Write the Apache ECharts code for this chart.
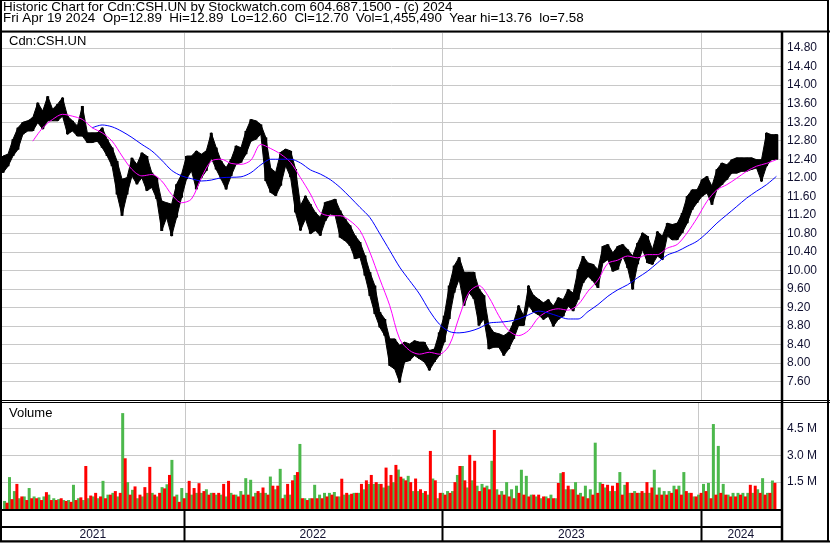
<!DOCTYPE html>
<html><head><meta charset="utf-8">
<script src="https://cdn.jsdelivr.net/npm/echarts/dist/echarts.min.js"></script>
<style>html,body{margin:0;padding:0;background:#fff}#c{width:830px;height:543px}</style>
</head><body><div id="c"></div><script>
const DAY = 86400000;
// weekly bars (Wednesday of each trading week), first week Apr 19-23 2021
const firstWeek = Date.UTC(2021, 3, 21);
const axisStart = Date.UTC(2021, 3, 19, 12);
const axisEnd = Date.UTC(2024, 3, 23, 12);

const priceHigh = [
12.47,12.51,12.83,13.08,13.20,13.23,13.30,13.62,13.44,13.76,
13.48,13.59,13.73,13.33,13.23,13.12,13.55,12.97,12.97,12.97,
13.08,12.83,12.65,12.36,11.97,12.00,12.43,12.29,12.54,12.47,
12.11,12.00,11.50,11.46,11.43,11.86,12.07,12.47,12.47,12.58,
12.51,12.58,12.97,12.65,12.36,12.22,12.40,12.69,12.65,13.01,
13.26,13.23,13.15,12.87,12.20,12.12,12.55,12.62,12.58,12.19,
11.40,11.61,11.43,11.25,11.14,11.47,11.50,11.54,11.29,11.11,
10.97,10.75,10.61,10.32,9.96,9.67,9.10,8.95,8.52,8.52,
8.38,8.45,8.41,8.48,8.45,8.45,8.27,8.30,8.66,9.02,
9.67,10.10,10.28,9.96,9.96,9.96,9.60,9.46,8.81,8.66,
8.63,8.59,8.66,8.88,9.24,9.02,9.67,9.46,9.38,9.30,
9.37,9.23,9.41,9.37,9.59,9.51,10.02,10.31,10.16,10.13,
10.02,10.52,10.56,10.38,10.52,10.56,10.45,10.31,10.59,10.81,
10.74,10.45,10.84,10.74,11.02,10.99,11.02,11.24,11.60,11.74,
11.74,11.96,12.03,11.82,12.18,12.32,12.28,12.39,12.43,12.43,
12.43,12.43,12.39,12.39,12.97,12.93,12.93];
const priceLow = [
12.11,12.25,12.47,12.61,12.94,13.01,13.01,13.19,13.05,13.23,
13.23,13.23,13.33,12.94,13.01,12.90,12.90,12.76,12.76,12.79,
12.65,12.47,12.25,11.64,11.18,11.64,12.04,11.86,12.00,11.72,
11.79,11.54,10.85,11.14,10.74,11.14,11.57,11.97,12.15,11.75,
12.00,12.15,12.43,12.18,11.97,11.75,12.04,12.29,12.33,12.51,
12.79,12.83,12.94,11.93,11.68,11.61,11.83,12.26,12.01,11.25,
10.86,11.11,10.79,10.86,10.75,11.07,11.22,11.18,10.71,10.64,
10.53,10.25,10.28,9.89,9.45,9.06,8.77,8.59,7.94,7.87,
7.58,8.02,8.05,8.16,8.09,8.02,7.84,8.02,8.16,8.45,
8.95,9.52,9.81,9.24,9.52,9.38,8.81,8.95,8.30,8.34,
8.34,8.16,8.30,8.52,8.81,8.81,9.24,9.10,9.04,8.94,
9.01,8.79,8.94,9.01,9.23,9.12,9.37,9.73,9.87,9.77,
9.62,10.16,10.23,9.98,10.02,10.31,10.05,9.59,10.13,10.45,
10.16,10.13,10.31,10.23,10.74,10.66,10.66,10.81,11.02,11.31,
11.46,11.60,11.67,11.42,11.74,11.85,11.96,12.10,12.10,12.14,
12.14,12.18,12.21,11.92,12.25,12.39,12.40];

// volume in millions: up-day (green) and down-day (red) per week
const volUp = [
0.45,1.78,1.0,0.6,0.7,1.17,0.7,0.65,0.7,0.8,
0.6,0.55,0.5,0.5,1.35,0.6,0.5,0.6,0.7,0.6,
1.57,0.8,0.9,0.7,5.35,1.5,1.07,0.6,0.7,0.9,
0.9,0.7,1.22,1.38,2.74,0.8,1.17,0.9,0.8,0.9,
0.9,1.1,0.9,0.8,0.8,0.7,0.9,0.8,1.0,1.72,
1.63,0.9,0.9,0.9,1.81,1.1,2.24,0.8,0.8,1.9,
3.63,0.6,0.6,1.35,0.8,0.9,0.9,0.95,0.7,0.8,
0.8,0.9,0.9,1.1,1.4,1.4,1.4,1.2,1.3,1.5,
2.2,1.7,1.85,1.0,1.0,0.9,0.8,1.7,0.6,0.9,
1.0,1.0,1.9,2.4,1.2,1.6,1.3,1.4,1.3,2.69,
1.1,1.0,1.5,1.1,1.3,2.19,1.85,0.8,0.7,0.6,
0.7,0.8,0.6,2.0,1.1,1.1,1.5,0.9,1.3,1.1,
3.7,1.5,1.2,1.0,1.0,2.06,1.35,0.9,1.0,0.9,
0.9,0.9,2.19,1.2,1.0,1.0,1.3,1.3,2.06,0.9,
0.7,0.8,1.4,1.45,4.74,3.52,1.4,0.8,0.9,0.9,
0.9,0.9,0.9,1.1,1.72,0.9,1.59];
const volDown = [
0.35,0.55,1.4,0.7,0.5,0.6,0.6,0.5,0.94,0.5,
0.5,0.6,0.45,0.4,0.5,0.65,2.4,0.75,0.9,0.7,
0.6,0.8,1.0,0.9,2.83,0.8,1.26,0.8,1.22,2.35,
0.8,0.9,1.15,1.9,0.7,0.4,0.6,1.57,1.17,1.44,
1.0,0.8,0.9,0.9,1.4,1.57,0.8,0.7,0.8,0.8,
0.7,1.0,1.2,0.8,1.3,1.3,0.6,1.4,1.6,2.06,
0.6,0.5,0.6,0.6,0.6,0.7,0.8,0.7,1.69,0.9,
0.85,0.9,1.4,1.6,1.9,1.5,1.4,2.31,1.9,2.46,
1.8,1.6,1.5,1.7,1.1,1.0,3.24,1.6,0.9,0.8,
0.9,1.5,2.4,1.6,3.02,2.69,1.0,1.2,1.1,4.41,
0.8,0.8,0.7,0.6,0.9,0.8,0.7,0.8,0.8,0.7,
0.6,0.6,1.45,2.06,1.3,1.1,0.8,0.7,0.6,0.8,
0.9,1.4,1.35,1.3,1.45,0.8,1.5,0.9,0.9,1.0,
1.5,1.2,0.8,0.8,0.8,0.9,1.1,0.8,1.0,0.9,
0.7,0.9,1.0,0.6,0.8,0.9,0.8,0.7,0.7,0.8,
0.7,1.35,1.3,0.9,0.8,0.9,1.46];

// moving averages, sampled every 2 weeks
const maFastStartWeek = 6;
const maFast = [
12.79,13.08,13.26,13.37,13.33,13.26,13.08,12.97,12.79,12.47,
12.18,12.04,12.07,11.93,11.64,11.46,11.54,12.00,12.36,12.40,
12.31,12.29,12.38,12.72,12.63,12.51,12.33,12.00,11.65,11.25,
11.18,11.18,11.07,10.86,10.39,9.81,9.24,8.52,8.27,8.19,
8.23,8.19,8.38,8.99,9.53,9.67,9.42,9.02,8.70,8.59,
8.70,8.98,9.12,9.17,9.14,9.26,9.55,9.79,10.15,10.22,
10.31,10.27,10.34,10.34,10.48,10.56,10.81,11.13,11.49,11.74,
11.85,11.99,12.14,12.25,12.31,12.39];
const maSlowStartWeek = 18;
const maSlow = [
13.08,13.14,13.10,13.00,12.87,12.72,12.58,12.38,12.16,12.04,
11.98,11.93,11.95,12.00,12.01,12.02,12.11,12.28,12.40,12.40,
12.40,12.32,12.17,12.08,11.96,11.79,11.58,11.36,11.14,10.79,
10.43,10.07,9.78,9.49,9.13,8.84,8.68,8.65,8.68,8.75,
8.86,8.88,8.90,8.95,9.04,9.12,9.08,9.01,8.95,8.95,
9.11,9.26,9.44,9.58,9.69,9.84,9.98,10.16,10.33,10.41,
10.52,10.63,10.81,11.02,11.20,11.38,11.56,11.71,11.85,12.03];

const yearBounds = [Date.UTC(2022,0,1), Date.UTC(2023,0,1), Date.UTC(2024,0,1)];
const yearLabels = ['2021','2022','2023','2024'];

const headerLine1 = 'Historic Chart for Cdn:CSH.UN by Stockwatch.com 604.687.1500 - (c) 2024';
const headerLine2 = 'Fri Apr 19 2024  Op=12.89  Hi=12.89  Lo=12.60  Cl=12.70  Vol=1,455,490  Year hi=13.76  lo=7.58';
const symbolLabel = 'Cdn:CSH.UN';
const volumeLabel = 'Volume';

const wk = i => firstWeek + i * 7 * DAY;
const FONT = 'Arial, "Liberation Sans", sans-serif';
const AXC = '#101030';

const priceData = priceHigh.map((h, i) => [wk(i), priceLow[i], h]);
const fastData = maFast.map((v, i) => [wk(maFastStartWeek + 2 * i), v]);
const slowData = maSlow.map((v, i) => [wk(maSlowStartWeek + 2 * i), v]);
const upData = volUp.map((v, i) => [wk(i), v]);
const downData = volDown.map((v, i) => [wk(i), v]);
const spanStarts = [axisStart].concat(yearBounds);
const spanEnds = yearBounds.concat([axisEnd]);
const yearData = yearLabels.map((l, i) => [spanStarts[i], spanEnds[i]]);

function vLines(color, width) {
  return function (params, api) {
    const cs = params.coordSys;
    const x = Math.round(api.coord([api.value(0), api.value(1)])[0]) + 0.5;
    return { type: 'line', shape: { x1: x, y1: cs.y, x2: x, y2: cs.y + cs.height },
      style: { stroke: color, lineWidth: width } };
  };
}

// price band: each week joined to the next one (high edge and low edge)
function renderBand(params, api) {
  const i = params.dataIndex;
  const cur = priceData[i];
  const nxt = priceData[Math.min(i + 1, priceData.length - 1)];
  const half = api.size([DAY * 2, 0])[0];
  const a = api.coord([cur[0], cur[2]]), b = api.coord([cur[0], cur[1]]);
  let pts;
  if (nxt === cur) {
    pts = [[a[0] - half, a[1]], [a[0] + half, a[1]], [b[0] + half, b[1]], [b[0] - half, b[1]]];
  } else {
    const c = api.coord([nxt[0], nxt[2]]), d = api.coord([nxt[0], nxt[1]]);
    pts = [a, c, d, b];
  }
  const group = { type: 'group', children: [
    { type: 'polygon', shape: { points: pts }, style: { fill: '#000', stroke: '#000', lineWidth: 1 } },
    { type: 'rect', shape: { x: a[0] - 1.5, y: a[1], width: 3, height: Math.max(1, b[1] - a[1]) }, style: { fill: '#000' } }
  ] };
  if (i === 0) {
    group.children.push({ type: 'rect', shape: { x: a[0] - half, y: a[1], width: half, height: Math.max(1, b[1] - a[1]) }, style: { fill: '#000' } });
  }
  return group;
}

const timeAxis = gi => ({ type: 'time', gridIndex: gi, min: axisStart, max: axisEnd, show: false });

const chart = echarts.init(document.getElementById('c'), null, { renderer: 'canvas' });
chart.setOption({
  animation: false,
  backgroundColor: '#fff',
  grid: [
    { left: 2, right: 49, top: 32, bottom: 143 },
    { left: 2, right: 49, top: 402, bottom: 34 },
    { left: 2, right: 49, top: 510, bottom: 2 }
  ],
  xAxis: [timeAxis(0), timeAxis(1), timeAxis(2)],
  yAxis: [
    { type: 'value', gridIndex: 0, position: 'right', min: 7.2, max: 15.148, interval: 0.4,
      axisLine: { show: false }, axisTick: { show: false },
      axisLabel: { showMinLabel: false, showMaxLabel: false, margin: 6, fontSize: 12, fontFamily: FONT, color: AXC,
        formatter: v => v.toFixed(2) },
      splitLine: { lineStyle: { color: '#c8c8c8', width: 1 } } },
    { type: 'value', gridIndex: 1, position: 'right', min: 0, max: 5.97, interval: 1.5,
      axisLine: { show: false }, axisTick: { show: false },
      axisLabel: { showMinLabel: false, showMaxLabel: false, margin: 6, fontSize: 12, fontFamily: FONT, color: AXC,
        formatter: v => v.toFixed(1) + ' M' },
      splitLine: { lineStyle: { color: '#c8c8c8', width: 1 } } },
    { type: 'value', gridIndex: 2, min: 0, max: 1, show: false }
  ],
  series: [
    { type: 'custom', xAxisIndex: 0, yAxisIndex: 0, z: 1, silent: true,
      data: yearBounds.map(t => [t, 10]), renderItem: vLines('#c8c8c8', 1) },
    { type: 'custom', xAxisIndex: 1, yAxisIndex: 1, z: 1, silent: true,
      data: yearBounds.map(t => [t, 1]), renderItem: vLines('#c8c8c8', 1) },
    { type: 'custom', xAxisIndex: 2, yAxisIndex: 2, z: 3, silent: true,
      data: yearBounds.map(t => [t, 0.5]), renderItem: vLines('#000', 2) },
    { type: 'custom', xAxisIndex: 0, yAxisIndex: 0, z: 2, clip: true,
      data: priceData, encode: { x: 0, y: [1, 2] }, renderItem: renderBand },
    { type: 'line', xAxisIndex: 0, yAxisIndex: 0, z: 4, data: fastData, showSymbol: false, smooth: 0.3,
      lineStyle: { color: '#ff00ff', width: 1 } },
    { type: 'line', xAxisIndex: 0, yAxisIndex: 0, z: 4, data: slowData, showSymbol: false, smooth: 0.3,
      lineStyle: { color: '#0000ff', width: 1 } },
    { type: 'bar', xAxisIndex: 1, yAxisIndex: 1, z: 2, data: upData, barWidth: 3, barGap: '-17%',
      itemStyle: { color: '#4cb84c' } },
    { type: 'bar', xAxisIndex: 1, yAxisIndex: 1, z: 2, data: downData, barWidth: 3, barGap: '-17%',
      itemStyle: { color: '#ff0000' } },
    { type: 'custom', xAxisIndex: 2, yAxisIndex: 2, z: 3, silent: true, data: yearData,
      renderItem: function (params, api) {
        const cs = params.coordSys;
        const x1 = api.coord([api.value(0), 0])[0], x2 = api.coord([api.value(1), 0])[0];
        return { type: 'text', style: { x: (x1 + x2) / 2, y: cs.y + 24.5, text: yearLabels[params.dataIndex],
          fill: AXC, font: '12px ' + FONT, align: 'center', verticalAlign: 'middle' } };
      } }
  ],
  graphic: [
    { type: 'rect', z: 100, silent: true, shape: { x: 0.5, y: 0.5, width: 828, height: 540.5 },
      style: { fill: null, stroke: '#000', lineWidth: 1 } },
    { type: 'line', z: 100, silent: true, shape: { x1: 1, y1: 0, x2: 1, y2: 542 }, style: { stroke: '#000', lineWidth: 2 } },
    { type: 'line', z: 100, silent: true, shape: { x1: 828, y1: 0, x2: 828, y2: 542 }, style: { stroke: '#000', lineWidth: 2 } },
    { type: 'line', z: 100, silent: true, shape: { x1: 0, y1: 31.5, x2: 830, y2: 31.5 }, style: { stroke: '#000', lineWidth: 2 } },
    { type: 'line', z: 100, silent: true, shape: { x1: 782, y1: 31, x2: 782, y2: 542 }, style: { stroke: '#000', lineWidth: 2.5 } },
    { type: 'line', z: 100, silent: true, shape: { x1: 0, y1: 400.5, x2: 830, y2: 400.5 }, style: { stroke: '#000', lineWidth: 1 } },
    { type: 'line', z: 100, silent: true, shape: { x1: 0, y1: 402.5, x2: 830, y2: 402.5 }, style: { stroke: '#000', lineWidth: 1 } },
    { type: 'line', z: 100, silent: true, shape: { x1: 0, y1: 510, x2: 782, y2: 510 }, style: { stroke: '#000', lineWidth: 2 } },
    { type: 'line', z: 100, silent: true, shape: { x1: 0, y1: 527, x2: 782, y2: 527 }, style: { stroke: '#000', lineWidth: 2 } },
    { type: 'line', z: 100, silent: true, shape: { x1: 0, y1: 541.5, x2: 830, y2: 541.5 }, style: { stroke: '#000', lineWidth: 2 } },
    { type: 'text', z: 100, silent: true, style: { x: 3, y: 7.5, text: headerLine1, fill: '#000',
      font: '13.4px ' + FONT, verticalAlign: 'middle' } },
    { type: 'text', z: 100, silent: true, style: { x: 3, y: 18.5, text: headerLine2, fill: '#000',
      font: '13.4px ' + FONT, verticalAlign: 'middle' } },
    { type: 'text', z: 100, silent: true, style: { x: 9, y: 41.5, text: symbolLabel, fill: '#000',
      font: '13px ' + FONT, verticalAlign: 'middle' } },
    { type: 'text', z: 100, silent: true, style: { x: 9, y: 413.5, text: volumeLabel, fill: '#000',
      font: '13px ' + FONT, verticalAlign: 'middle' } }
  ]
});
</script></body></html>
